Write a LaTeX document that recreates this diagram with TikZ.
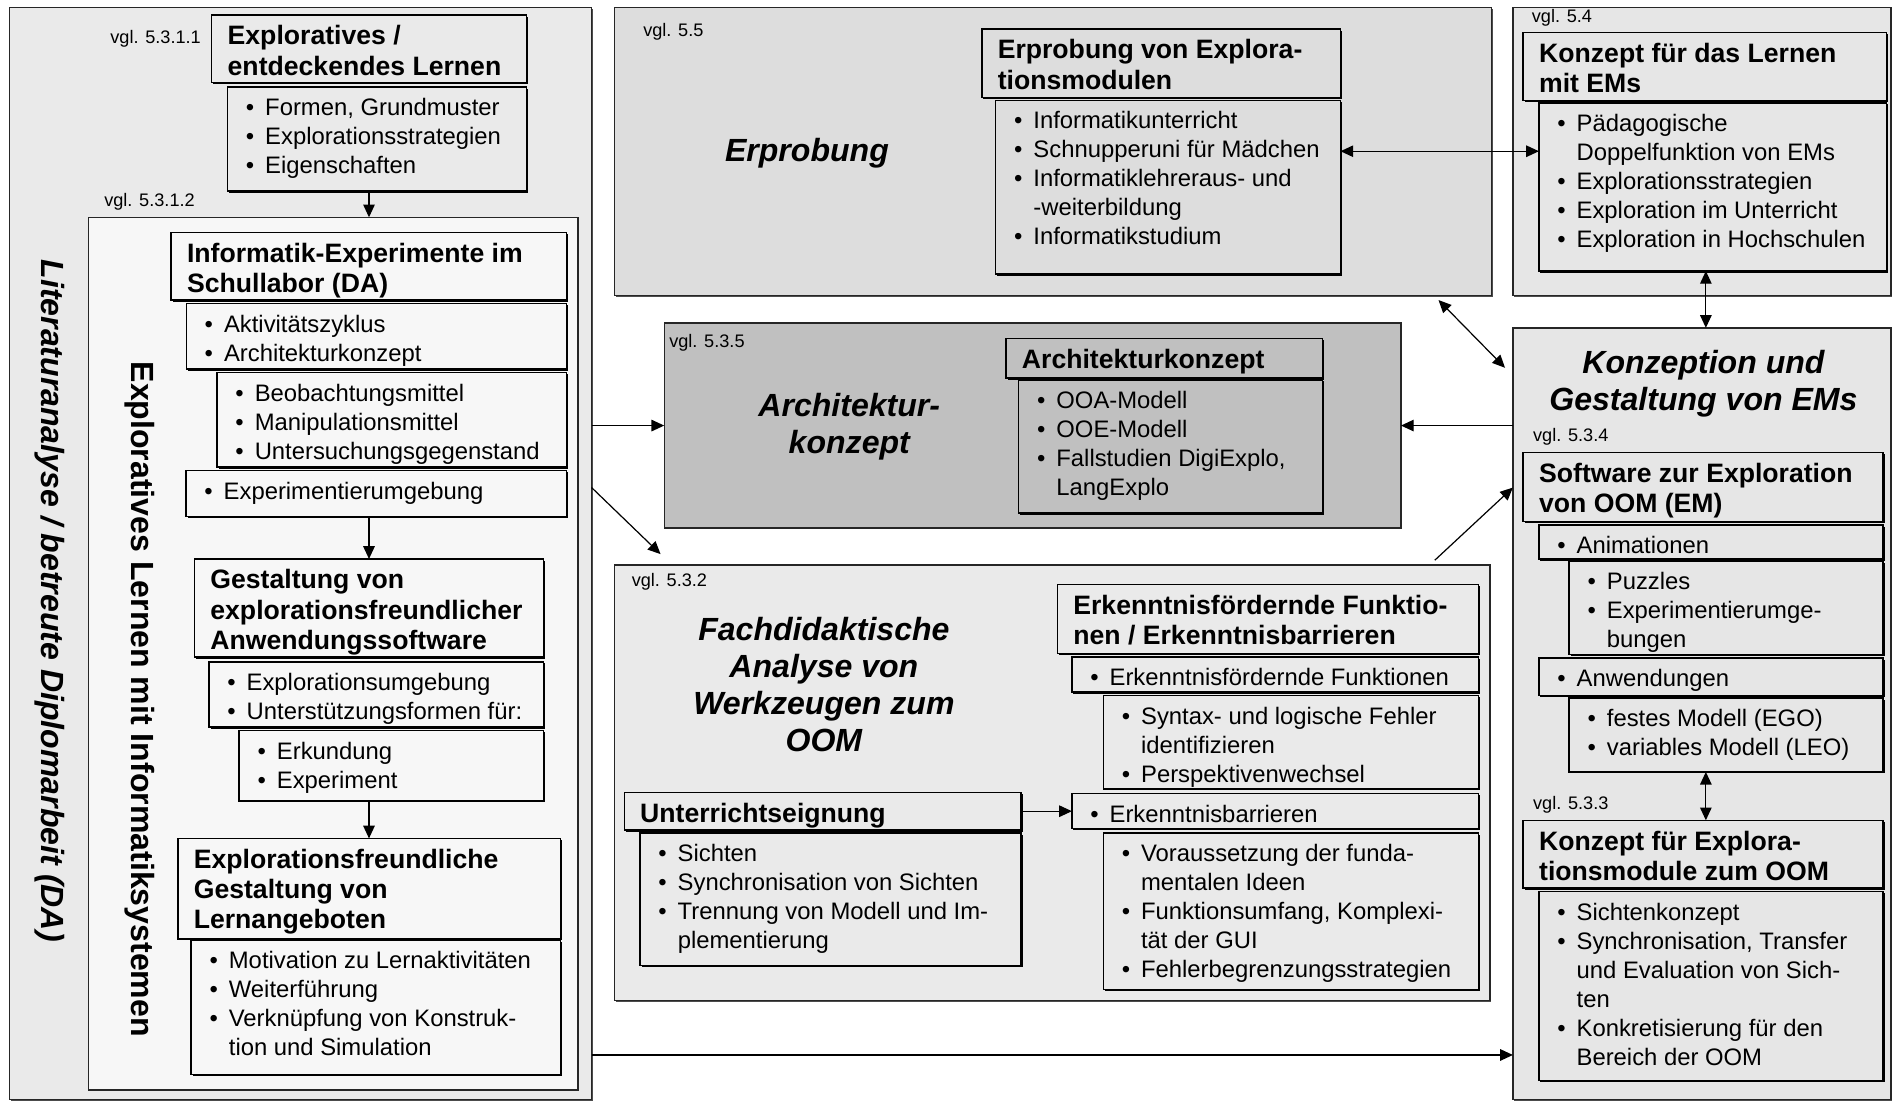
\documentclass[tikz,border=0pt]{standalone}
\usepackage{fontspec}
\setmainfont{Liberation Sans}
\usetikzlibrary{arrows.meta,shadows}

\definecolor{cLit}{HTML}{EAEAEA}
\definecolor{cExp}{HTML}{F7F7F7}
\definecolor{cErp}{HTML}{DDDDDD}
\definecolor{cKl}{HTML}{E6E6E6}
\definecolor{cArch}{HTML}{C0C0C0}
\definecolor{cFach}{HTML}{EAEAEA}
\definecolor{cKonz}{HTML}{E6E6E6}

% fonts
\newcommand{\fBul}{\fontsize{19.7}{24}\selectfont}
\newcommand{\fTit}{\fontsize{22}{25}\selectfont\bfseries}
\newcommand{\fHead}{\fontsize{26.5}{30.5}\selectfont\bfseries\itshape}
\newcommand{\fRef}{\fontsize{15}{18}\selectfont}
% bullet item and continuation line
\newcommand{\bu}{\strut\makebox[19pt][l]{\hspace{3pt}\textbullet}}
\newcommand{\ct}{\strut\hspace*{19pt}}

\tikzset{
  boxframe/.style={draw=black, line width=1.2pt, inner sep=0pt, outer sep=0pt,
    drop shadow={shadow xshift=1.3pt, shadow yshift=-1.3pt, fill=black, opacity=1}},
  container/.style={draw=black!85, line width=1.1pt, inner sep=0pt, outer sep=0pt,
    drop shadow={shadow xshift=1.1pt, shadow yshift=-1.1pt, fill=black!70, opacity=1}},
  txt/.style={anchor=north west, inner sep=0pt, align=left},
  head/.style={inner sep=0pt, font=\fHead},
  ref/.style={anchor=west, inner sep=0pt, font=\fRef},
  arr/.style={line width=1pt, -{Triangle[length=10.5pt,width=9.5pt]}},
  darr/.style={line width=1pt, {Triangle[length=10.5pt,width=9.5pt]}-{Triangle[length=10.5pt,width=9.5pt]}},
}

% container: name, style, x0, y0, x1, y1
\newcommand{\panel}[6]{%
  \node[container,#2,minimum width={#5-#3},minimum height={#6-#4},anchor=north west] (#1) at (#3,#4) {};}
% title box: name, style, x0, y0, x1, y1, text
\newcommand{\tbx}[7]{%
  \node[boxframe,#2,minimum width={#5-#3},minimum height={#6-#4},anchor=north west] (#1) at (#3,#4) {};
  \node[txt,font=\fTit] (#1-t) at ([shift={(13pt,-7pt)}]#1.north west) {\strut #7};}
% bullet box: name, style, x0, y0, x1, y1, text
\newcommand{\bbx}[7]{%
  \node[boxframe,#2,minimum width={#5-#3},minimum height={#6-#4},anchor=north west] (#1) at (#3,#4) {};
  \node[txt,font=\fBul] (#1-t) at ([shift={(12pt,-6.5pt)}]#1.north west) {#7};}

\begin{document}
\begin{tikzpicture}[x=1pt,y=-1pt]
\useasboundingbox (0,0) rectangle (1568,911);

% ---------- containers ----------
\panel{lit}{fill=cLit}{8}{6}{489}{909}
\panel{expl}{fill=cExp}{73.4}{179.6}{477.7}{901}
\panel{erp}{fill=cErp}{508}{6}{1233}{244}
\panel{kl}{fill=cKl}{1250.5}{6}{1563}{244}
\panel{arch}{fill=cArch}{549}{267}{1158}{436.5}
\panel{fach}{fill=cFach}{508}{467}{1231.5}{827}
\panel{konz}{fill=cKonz}{1250.5}{271}{1563}{909}

% ---------- left column ----------
\tbx{e1t}{fill=cLit}{175}{12.4}{435}{68.3}{Exploratives /\\entdeckendes Lernen}
\bbx{e1b}{fill=cLit}{188}{72}{435}{158}{\bu Formen, Grundmuster\\\bu Explorationsstrategien\\\bu Eigenschaften}

\tbx{ie-t}{fill=cExp}{141.4}{192}{468.2}{248}{Informatik-Experimente im\\Schullabor (DA)}
\bbx{ie-a}{fill=cExp}{154}{251}{468.2}{305}{\bu Aktivitätszyklus\\\bu Architekturkonzept}
\bbx{ie-b}{fill=cExp}{179.4}{308}{468.2}{386}{\bu Beobachtungsmittel\\\bu Manipulationsmittel\\\bu Untersuchungsgegenstand}
\bbx{ie-c}{fill=cExp}{153.7}{389}{468.2}{427}{\bu Experimentierumgebung}

\tbx{gs-t}{fill=cExp}{160.7}{462}{449.2}{543}{Gestaltung von\\explorationsfreundlicher\\Anwendungssoftware}
\bbx{gs-a}{fill=cExp}{172.7}{547}{449.2}{601}{\bu Explorationsumgebung\\\bu Unterstützungsformen für:}
\bbx{gs-b}{fill=cExp}{197.7}{604}{449.2}{662}{\bu Erkundung\\\bu Experiment}

\tbx{ef-t}{fill=cExp}{147}{693}{463.5}{776}{Explorationsfreundliche\\Gestaltung von\\Lernangeboten}
\bbx{ef-b}{fill=cExp}{158}{777}{463.5}{888}{\bu Motivation zu Lernaktivitäten\\\bu Weiterführung\\\bu Verknüpfung von Konstruk-\\\ct tion und Simulation}

% ---------- Erprobung ----------
\tbx{erp-t}{fill=cErp}{811.5}{24}{1108}{80.5}{Erprobung von Explora-\\tionsmodulen}
\bbx{erp-b}{fill=cErp}{823}{83}{1108}{226.5}{\bu Informatikunterricht\\\bu Schnupperuni für Mädchen\\\bu Informatiklehreraus- und\\\ct -weiterbildung\\\bu Informatikstudium}

% ---------- Konzept fuer das Lernen ----------
\tbx{kl-t}{fill=cKl}{1259}{27}{1559.5}{83}{Konzept für das Lernen\\mit EMs}
\bbx{kl-b}{fill=cKl}{1272}{85}{1559.5}{224}{\bu Pädagogische\\\ct Doppelfunktion von EMs\\\bu Explorationsstrategien\\\bu Exploration im Unterricht\\\bu Exploration in Hochschulen}

% ---------- Architektur ----------
\tbx{ar-t}{fill=cArch}{831.5}{280}{1093}{312.5}{Architekturkonzept}
\bbx{ar-b}{fill=cArch}{842}{314}{1093}{424}{\bu OOA-Modell\\\bu OOE-Modell\\\bu Fallstudien DigiExplo,\\\ct LangExplo}

% ---------- Fachdidaktische Analyse ----------
\tbx{ek-t}{fill=cFach}{874}{483}{1222}{540}{Erkenntnisfördernde Funktio-\\nen / Erkenntnisbarrieren}
\bbx{ek-a}{fill=cFach}{886}{543}{1222}{572}{\bu Erkenntnisfördernde Funktionen}
\bbx{ek-b}{fill=cFach}{912}{575}{1222}{652}{\bu Syntax- und logische Fehler\\\ct identifizieren\\\bu Perspektivenwechsel}
\bbx{ek-c}{fill=cFach}{886}{656}{1222}{685}{\bu Erkenntnisbarrieren}
\bbx{ek-d}{fill=cFach}{912}{688.5}{1222}{818}{\bu Voraussetzung der funda-\\\ct mentalen Ideen\\\bu Funktionsumfang, Komplexi-\\\ct tät der GUI\\\bu Fehlerbegrenzungsstrategien}
\tbx{ue-t}{fill=cFach}{516}{655}{844}{686}{Unterrichtseignung}
\bbx{ue-b}{fill=cFach}{529}{688.5}{844}{798}{\bu Sichten\\\bu Synchronisation von Sichten\\\bu Trennung von Modell und Im-\\\ct plementierung}

% ---------- Konzeption und Gestaltung ----------
\tbx{sw-t}{fill=cKonz}{1259}{374}{1556.5}{431}{Software zur Exploration\\von OOM (EM)}
\bbx{sw-a}{fill=cKonz}{1272}{434}{1556.5}{462}{\bu Animationen}
\bbx{sw-b}{fill=cKonz}{1297}{464}{1556.5}{541}{\bu Puzzles\\\bu Experimentierumge-\\\ct bungen}
\bbx{sw-c}{fill=cKonz}{1272}{544}{1556.5}{575}{\bu Anwendungen}
\bbx{sw-d}{fill=cKonz}{1297}{577}{1556.5}{638}{\bu festes Modell (EGO)\\\bu variables Modell (LEO)}
\tbx{km-t}{fill=cKonz}{1259}{678}{1556.5}{734}{Konzept für Explora-\\tionsmodule zum OOM}
\bbx{km-b}{fill=cKonz}{1272}{737}{1556.5}{893}{\bu Sichtenkonzept\\\bu Synchronisation, Transfer\\\ct und Evaluation von Sich-\\\ct ten\\\bu Konkretisierung für den\\\ct Bereich der OOM}

% ---------- section references ----------
\node[ref] (r1) at (91,32) {vgl. 5.3.1.1};
\node[ref] (r2) at (86,167) {vgl. 5.3.1.2};
\node[ref] (r3) at (531.5,26) {vgl. 5.5};
\node[ref] (r4) at (1266,14.5) {vgl. 5.4};
\node[ref] (r5) at (553,283) {vgl. 5.3.5};
\node[ref] (r6) at (522,481) {vgl. 5.3.2};
\node[ref] (r7) at (1267,361) {vgl. 5.3.4};
\node[ref] (r8) at (1267,665) {vgl. 5.3.3};

% ---------- headings ----------
\node[head] (h-erp) at (667,127) {Erprobung};
\node[head, align=center] (h-arch) at (702,353) {Architektur-\\konzept};
\node[head, align=center] (h-fach) at (681,566) {Fachdidaktische\\Analyse von\\Werkzeugen zum\\OOM};
\node[head, align=center] (h-konz) at (1408,317) {Konzeption und\\Gestaltung von EMs};
\node[head, rotate=-90] (h-lit) at (41,496.5) {Literaturanalyse / betreute Diplomarbeit (DA)};
\node[inner sep=0pt, font=\fontsize{26.5}{30}\selectfont\bfseries, rotate=-90] (h-expl) at (115.5,578) {Exploratives Lernen mit Informatiksystemen};

% ---------- connectors ----------
\coordinate (ax) at (305,0);
\coordinate (xK) at (1410,0);
\coordinate (yA) at (0,403);
\coordinate (yC) at (0,125);
\coordinate (yD) at (0,872);
\coordinate (fA) at (546,458);
\coordinate (fB) at (1186,463);
\coordinate (dA) at (1189,248);
\coordinate (dB) at (1244,304);

\draw[arr] (e1b.south -| ax) -- (expl.north -| ax);
\draw[arr] (ie-c.south -| ax) -- (gs-t.north -| ax);
\draw[arr] (gs-b.south -| ax) -- (ef-t.north -| ax);
\draw[arr] (lit.east |- arch.west) -- (arch.west);
\draw[arr] (konz.west |- arch.east) -- (arch.east);
\draw[arr] (lit.east |- yA) -- (fA);
\draw[darr] (dA) -- (dB);
\draw[arr] (fB) -- (konz.west |- yA);
\draw[darr] (erp-b.east |- yC) -- (kl-b.west |- yC);
\draw[darr] (kl-b.south -| xK) -- (konz.north -| xK);
\draw[darr] (sw-d.south -| xK) -- (km-t.north -| xK);
\draw[arr] (ue-t.east) -- (ek-c.west);
\draw[arr] (lit.east |- yD) -- (konz.west |- yD);
\end{tikzpicture}
\end{document}
